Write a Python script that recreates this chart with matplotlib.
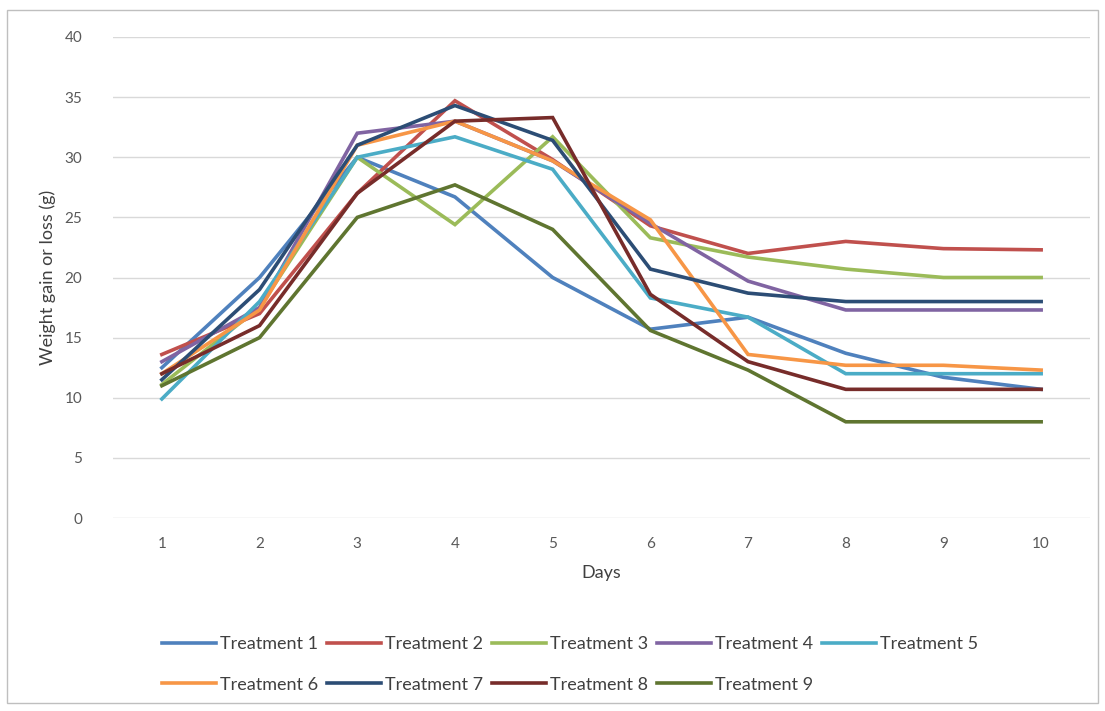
import matplotlib

matplotlib.use("Agg")
import matplotlib.pyplot as plt
from matplotlib.patches import Rectangle

plt.rcParams["font.family"] = ["Lato", "DejaVu Sans"]

days = [1, 2, 3, 4, 5, 6, 7, 8, 9, 10]
treatment_1 = [12.5, 20.0, 30.0, 26.7, 20.0, 15.7, 16.7, 13.7, 11.7, 10.7]
treatment_2 = [13.6, 17.0, 27.0, 34.7, 29.8, 24.3, 22.0, 23.0, 22.4, 22.3]
treatment_3 = [11.1, 17.5, 30.0, 24.4, 31.7, 23.3, 21.7, 20.7, 20.0, 20.0]
treatment_4 = [13.0, 17.5, 32.0, 33.0, 29.7, 24.5, 19.7, 17.3, 17.3, 17.3]
treatment_5 = [9.9, 18.0, 30.0, 31.7, 29.0, 18.3, 16.7, 12.0, 12.0, 12.0]
treatment_6 = [12.0, 17.3, 31.0, 33.0, 29.7, 24.8, 13.6, 12.7, 12.7, 12.3]
treatment_7 = [11.5, 19.0, 31.0, 34.3, 31.4, 20.7, 18.7, 18.0, 18.0, 18.0]
treatment_8 = [12.0, 16.0, 27.0, 33.0, 33.3, 18.6, 13.0, 10.7, 10.7, 10.7]
treatment_9 = [11.0, 15.0, 25.0, 27.7, 24.0, 15.6, 12.3, 8.0, 8.0, 8.0]

series = [treatment_1, treatment_2, treatment_3, treatment_4, treatment_5,
          treatment_6, treatment_7, treatment_8, treatment_9]
labels = [f"Treatment {i}" for i in range(1, 10)]
colors = ["#4F81BD", "#C0504D", "#9BBB59", "#8064A2", "#4BACC6",
          "#F79646", "#2C4D75", "#772C2A", "#5F7530"]

fig = plt.figure(figsize=(11.05, 7.11), dpi=100)
W, H = 1105, 711
ax = fig.add_axes([113 / W, 1 - 518 / H, (1090 - 113) / W, (518 - 37) / H])

lines = []
for vals, lab, col in zip(series, labels, colors):
    ln, = ax.plot(days, vals, color=col, linewidth=2.6, label=lab, solid_joinstyle="miter")
    lines.append(ln)

ax.set_xlim(0.5, 10.5)
ax.set_ylim(0, 40)
ax.set_xticks(days)
ax.set_yticks(range(0, 41, 5))
ax.grid(axis="y", color="#D9D9D9", linewidth=1)
ax.set_axisbelow(True)
for s in ax.spines.values():
    s.set_visible(False)
ax.tick_params(length=0, labelsize=11, colors="#595959", pad=14)
ax.tick_params(axis="y", pad=22)
ax.set_xlabel("Days", fontsize=13, color="#404040", labelpad=10)
ax.set_ylabel("Weight gain or loss (g)", fontsize=13, color="#404040", labelpad=6)

# legend fills column by column, so interleave to get rows 1-5 / 6-9
order = [0, 5, 1, 6, 2, 7, 3, 8, 4]
fig.legend([lines[i] for i in order], [labels[i] for i in order],
           loc="upper left", bbox_to_anchor=(146 / W, 1 - 620 / H), ncol=5,
           frameon=False, fontsize=13, handlelength=3.0, handletextpad=0.2,
           columnspacing=0.5, labelspacing=1.35, labelcolor="#404040")

fig.patches.append(Rectangle((7 / W, 1 - 703 / H), (1098 - 7) / W, (703 - 10) / H,
                             transform=fig.transFigure, fill=False,
                             edgecolor="#BFBFBF", linewidth=1))

fig.savefig("out.png", dpi=100)
